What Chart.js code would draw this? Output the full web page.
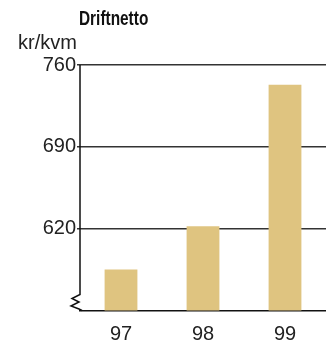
<!DOCTYPE html>
<html>
<head>
<meta charset="utf-8">
<script src="https://cdn.jsdelivr.net/npm/chart.js@4/dist/chart.umd.min.js"></script>
<style>
  html, body { margin: 0; padding: 0; background: #fff; }
  #wrap { width: 326px; height: 340px; position: relative; }
</style>
</head>
<body>
<div id="wrap"><canvas id="c" width="326" height="340"></canvas></div>
<script>
// Operating net cost per square metre, by year
const years = ['97', '98', '99'];
const driftnetto = [585, 622, 743];
const yTicks = [620, 690, 760];
const yMin = 550;
const yMax = 760;
const chartTitle = 'Driftnetto';
const unitLabel = 'kr/kvm';

const FONT = '"Liberation Sans", Arial, sans-serif';

// Title, unit label and the broken y axis line (zigzag near the base)
const decorations = {
  id: 'decorations',
  afterDraw(chart) {
    const ctx = chart.ctx;
    const a = chart.chartArea;
    ctx.save();
    ctx.fillStyle = '#111';
    ctx.textBaseline = 'alphabetic';
    ctx.textAlign = 'left';
    // condensed bold heading
    ctx.save();
    ctx.translate(a.left - 1, 25);
    ctx.scale(0.77, 1);
    ctx.font = 'bold 20px ' + FONT;
    ctx.fillText(chartTitle, 0, 0);
    ctx.restore();

    ctx.textAlign = 'right';
    ctx.font = '20px ' + FONT;
    ctx.fillStyle = '#222';
    ctx.fillText(unitLabel, a.left - 3, 49);

    // y axis with break marks
    const x = a.left;
    const b = a.bottom;
    ctx.strokeStyle = '#111';
    ctx.lineWidth = 1.5;
    ctx.beginPath();
    ctx.moveTo(x, a.top);
    ctx.lineTo(x, b - 16);
    ctx.lineTo(x - 8, b - 12);
    ctx.lineTo(x - 1, b - 8.5);
    ctx.lineTo(x - 9, b - 4.5);
    ctx.lineTo(x - 1, b - 1.5);
    ctx.lineTo(x + 2, b);
    ctx.stroke();
    ctx.restore();
  }
};

new Chart(document.getElementById('c'), {
  type: 'bar',
  data: {
    labels: years,
    datasets: [{
      data: driftnetto,
      backgroundColor: '#dfc480',
      borderWidth: 0,
      categoryPercentage: 1,
      barPercentage: 0.4
    }]
  },
  options: {
    responsive: false,
    animation: false,
    layout: { padding: { top: 65, right: 0, left: 0, bottom: 0 } },
    plugins: { legend: { display: false }, tooltip: { enabled: false } },
    scales: {
      x: {
        grid: { display: false },
        border: { display: true, color: '#111', width: 1.5 },
        ticks: { color: '#222', font: { family: FONT, size: 20 }, padding: 4 },
        afterFit(s) { s.height = 29.5; }
      },
      y: {
        min: yMin,
        max: yMax,
        afterBuildTicks(s) { s.ticks = yTicks.map(v => ({ value: v })); },
        grid: { color: '#333', lineWidth: 1.5, tickLength: 3, tickColor: '#333' },
        border: { display: false },
        ticks: { color: '#222', font: { family: FONT, size: 20 }, padding: 1 },
        afterFit(s) { s.width = 80; }
      }
    }
  },
  plugins: [decorations]
});
</script>
</body>
</html>
